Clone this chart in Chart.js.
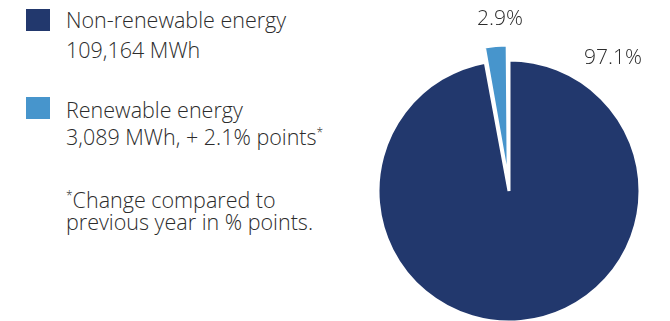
<!DOCTYPE html>
<html>
<head>
<meta charset="utf-8">
<script src="https://cdn.jsdelivr.net/npm/chart.js@4/dist/chart.umd.min.js"></script>
<style>
    html, body { margin: 0; padding: 0; background: #fff; }
    body { width: 670px; height: 321px; position: relative; overflow: hidden;
           font-family: "Open Sans", sans-serif; color: #2c2c2c; }
    #chart { position: absolute; left: 0; top: 0; }
    .swatch { position: absolute; left: 26px; width: 24px; height: 22px; }
    .line { position: absolute; left: 66px; font-size: 21.5px; line-height: 21.5px; font-weight: 300;
            white-space: nowrap; }
    sup { font-size: 12px; vertical-align: 8px; line-height: 0; }
</style>
</head>
<body>
<div id="legend"></div>
<canvas id="chart" width="670" height="321"></canvas>
<script>
// chart data
const categories = ['Non-renewable energy', 'Renewable energy'];
const energyMWh = [109164, 3089];
const sharePercent = [97.1, 2.9];
const changeNote = ['', '+ 2.1% points'];
const footnote = ['Change compared to', 'previous year in % points.'];
const colors = ['#22386d', '#4795cc'];

// legend built by hand, the library legend can't do the two-line entries
const legend = document.getElementById('legend');
const swatchTops = [9, 97];
const lineTops = [[9.2, 39.2], [99.2, 125.9]];
categories.forEach((name, i) => {
    const sw = document.createElement('div');
    sw.className = 'swatch';
    sw.style.top = swatchTops[i] + 'px';
    sw.style.background = colors[i];
    legend.appendChild(sw);

    const l1 = document.createElement('div');
    l1.className = 'line';
    l1.style.top = lineTops[i][0] + 'px';
    l1.textContent = name;
    legend.appendChild(l1);

    const l2 = document.createElement('div');
    l2.className = 'line';
    l2.style.top = lineTops[i][1] + 'px';
    let txt = energyMWh[i].toLocaleString('en-US') + ' MWh';
    l2.textContent = changeNote[i] ? txt + ', ' + changeNote[i] : txt;
    if (changeNote[i]) {
        const s = document.createElement('sup');
        s.textContent = '*';
        l2.appendChild(s);
    }
    legend.appendChild(l2);
});
const f1 = document.createElement('div');
f1.className = 'line';
f1.style.top = '189.2px';
f1.innerHTML = '<sup>*</sup>' + footnote[0];
legend.appendChild(f1);
const f2 = document.createElement('div');
f2.className = 'line';
f2.style.top = '210.9px';
f2.textContent = footnote[1];
legend.appendChild(f2);

// percentage labels outside the slices
const outsideLabels = {
    id: 'outsideLabels',
    afterDatasetsDraw(chart, args, opts) {
        const ctx = chart.ctx;
        const meta = chart.getDatasetMeta(0);
        ctx.save();
        ctx.font = opts.font;
        ctx.fillStyle = opts.color;
        ctx.textAlign = 'center';
        ctx.textBaseline = 'middle';
        meta.data.forEach((arc, i) => {
            const p = arc.getProps(['x', 'y', 'outerRadius']);
            // arc offset is drawn at a quarter of its value
            const off = (chart.data.datasets[0].offset[i] || 0) / 4;
            const a = -Math.PI / 2 + opts.angles[i] * Math.PI / 180;
            const r = p.outerRadius + off + opts.distance[i];
            ctx.fillText(sharePercent[i].toFixed(1) + '%', p.x + Math.cos(a) * r, p.y + Math.sin(a) * r);
        });
        ctx.restore();
    }
};

new Chart(document.getElementById('chart'), {
    type: 'pie',
    data: {
        labels: categories,
        datasets: [{
            data: sharePercent,
            backgroundColor: colors,
            borderColor: '#ffffff',
            borderWidth: 3,
            offset: [0, 33],
            radius: 131,
            clip: false
        }]
    },
    options: {
        responsive: false,
        animation: false,
        layout: { padding: { left: 348, right: 0, top: 61, bottom: 0 } },
        plugins: {
            legend: { display: false },
            tooltip: { enabled: false },
            outsideLabels: {
                font: '300 21px "Open Sans"',
                color: '#2c2c2c',
                angles: [38, -3],
                distance: [38, 33]
            }
        }
    },
    plugins: [outsideLabels]
});
</script>
</body>
</html>
